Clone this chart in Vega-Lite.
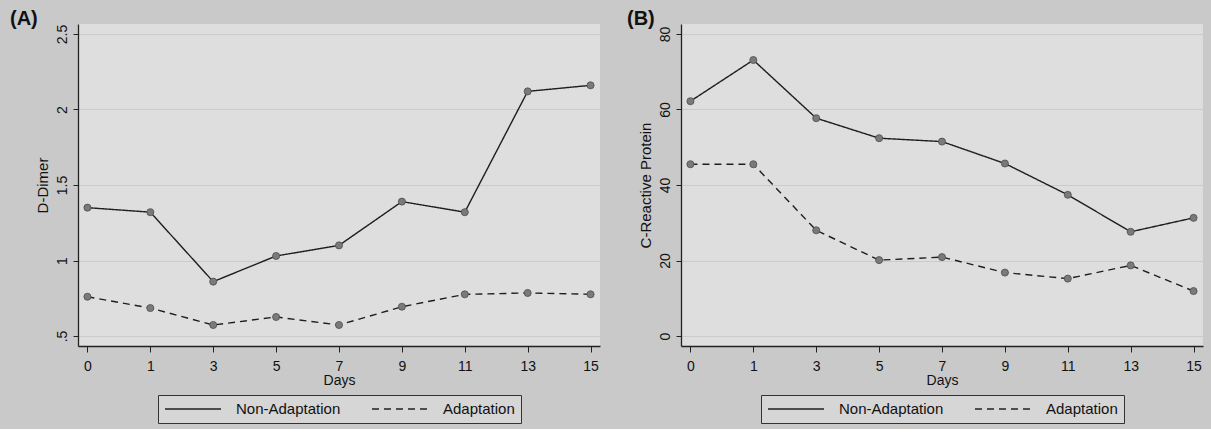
{
  "$schema": "https://vega.github.io/schema/vega-lite/v6.json",
  "background": "#c9c9c9",
  "padding": {"left": 10, "top": 9, "right": 8, "bottom": 5},
  "datasets": {
    "dimer": [
      {"day": 0, "group": "Non-Adaptation", "value": 1.35},
      {"day": 1, "group": "Non-Adaptation", "value": 1.32},
      {"day": 3, "group": "Non-Adaptation", "value": 0.86},
      {"day": 5, "group": "Non-Adaptation", "value": 1.03},
      {"day": 7, "group": "Non-Adaptation", "value": 1.10},
      {"day": 9, "group": "Non-Adaptation", "value": 1.39},
      {"day": 11, "group": "Non-Adaptation", "value": 1.32},
      {"day": 13, "group": "Non-Adaptation", "value": 2.12},
      {"day": 15, "group": "Non-Adaptation", "value": 2.16},
      {"day": 0, "group": "Adaptation", "value": 0.76},
      {"day": 1, "group": "Adaptation", "value": 0.685},
      {"day": 3, "group": "Adaptation", "value": 0.573},
      {"day": 5, "group": "Adaptation", "value": 0.626},
      {"day": 7, "group": "Adaptation", "value": 0.573},
      {"day": 9, "group": "Adaptation", "value": 0.694},
      {"day": 11, "group": "Adaptation", "value": 0.776},
      {"day": 13, "group": "Adaptation", "value": 0.785},
      {"day": 15, "group": "Adaptation", "value": 0.776}
    ],
    "crp": [
      {"day": 0, "group": "Non-Adaptation", "value": 62.2},
      {"day": 1, "group": "Non-Adaptation", "value": 73.1},
      {"day": 3, "group": "Non-Adaptation", "value": 57.7},
      {"day": 5, "group": "Non-Adaptation", "value": 52.4},
      {"day": 7, "group": "Non-Adaptation", "value": 51.5},
      {"day": 9, "group": "Non-Adaptation", "value": 45.7},
      {"day": 11, "group": "Non-Adaptation", "value": 37.4},
      {"day": 13, "group": "Non-Adaptation", "value": 27.6},
      {"day": 15, "group": "Non-Adaptation", "value": 31.3},
      {"day": 0, "group": "Adaptation", "value": 45.5},
      {"day": 1, "group": "Adaptation", "value": 45.5},
      {"day": 3, "group": "Adaptation", "value": 28.0},
      {"day": 5, "group": "Adaptation", "value": 20.1},
      {"day": 7, "group": "Adaptation", "value": 20.9},
      {"day": 9, "group": "Adaptation", "value": 16.8},
      {"day": 11, "group": "Adaptation", "value": 15.2},
      {"day": 13, "group": "Adaptation", "value": 18.7},
      {"day": 15, "group": "Adaptation", "value": 11.9}
    ]
  },
  "spacing": 27,
  "resolve": {
    "scale": {"strokeDash": "independent", "x": "independent", "y": "independent"},
    "legend": {"strokeDash": "independent"}
  },
  "hconcat": [
    {
      "title": {"text": "(A)", "anchor": "start", "frame": "group", "dx": -68, "offset": -25, "baseline": "bottom", "fontSize": 20, "fontWeight": "bold", "font": "Liberation Sans", "color": "#111"},
      "width": 522,
      "height": 322,
      "data": {"name": "dimer"},
      "encoding": {
        "x": {"field": "day", "type": "ordinal", "scale": {"type": "point", "padding": 0.15}, "axis": {"title": "Days", "ticks": true}},
        "y": {"field": "value", "type": "quantitative", "scale": {"domain": [0.4338, 2.5662], "nice": false, "zero": false}, "axis": {"title": "D-Dimer", "values": [0.5, 1, 1.5, 2, 2.5], "labelExpr": "datum.value == 0.5 ? '.5' : format(datum.value, '~g')"}}
      },
      "layer": [
        {
          "mark": {"type": "line", "color": "#1e1e1e", "strokeWidth": 1.4},
          "encoding": {
            "strokeDash": {"field": "group", "type": "nominal", "scale": {"domain": ["Non-Adaptation", "Adaptation"], "range": [[1, 0], [7, 5]]}, "legend": {"title": null}}
          }
        },
        {
          "mark": {"type": "circle", "size": 50, "fill": "#7a7a7a", "stroke": "#4d4d4d", "strokeWidth": 0.8, "opacity": 1}
        }
      ]
    },
    {
      "title": {"text": "(B)", "anchor": "start", "frame": "group", "dx": -54, "offset": -25, "baseline": "bottom", "fontSize": 20, "fontWeight": "bold", "font": "Liberation Sans", "color": "#111"},
      "width": 522,
      "height": 322,
      "data": {"name": "crp"},
      "encoding": {
        "x": {"field": "day", "type": "ordinal", "scale": {"type": "point", "padding": 0.15}, "axis": {"title": "Days", "ticks": true}},
        "y": {"field": "value", "type": "quantitative", "scale": {"domain": [-2.649, 82.649], "nice": false, "zero": false}, "axis": {"title": "C-Reactive Protein", "values": [0, 20, 40, 60, 80]}}
      },
      "layer": [
        {
          "mark": {"type": "line", "color": "#1e1e1e", "strokeWidth": 1.4},
          "encoding": {
            "strokeDash": {"field": "group", "type": "nominal", "scale": {"domain": ["Non-Adaptation", "Adaptation"], "range": [[1, 0], [7, 5]]}, "legend": {"title": null}}
          }
        },
        {
          "mark": {"type": "circle", "size": 50, "fill": "#7a7a7a", "stroke": "#4d4d4d", "strokeWidth": 0.8, "opacity": 1}
        }
      ]
    }
  ],
  "config": {
    "font": "Liberation Sans",
    "view": {"fill": "#dedede", "stroke": null},
    "axis": {
      "domainColor": "#222222", "domainWidth": 1.3,
      "tickColor": "#222222", "tickSize": 6, "tickWidth": 1,
      "labelFont": "Liberation Sans", "labelFontSize": 14, "labelColor": "#111111",
      "titleFont": "Liberation Sans", "titleFontSize": 14, "titleFontWeight": "normal", "titleColor": "#111111",
      "gridColor": "#cbcbcb", "gridWidth": 1
    },
    "axisX": {"grid": false, "labelAngle": 0, "labelPadding": 7, "titlePadding": 0},
    "axisY": {"grid": true, "labelAngle": -90, "labelPadding": 4, "tickSize": 5, "minExtent": 23, "maxExtent": 23, "titlePadding": 5, "titleFontSize": 15},
    "legend": {
      "orient": "bottom", "direction": "horizontal",
      "layout": {"bottom": {"anchor": "middle", "bounds": "flush"}},
      "labelFont": "Liberation Sans", "labelFontSize": 15, "labelColor": "#111111",
      "symbolType": "stroke", "symbolSize": 3136, "clipHeight": 16,
      "symbolStrokeColor": "#222222", "symbolStrokeWidth": 1.3,
      "labelOffset": 14, "columnPadding": 30, "padding": 6,
      "strokeColor": "#333333", "fillColor": "#d6d6d6", "offset": 8
    }
  }
}
